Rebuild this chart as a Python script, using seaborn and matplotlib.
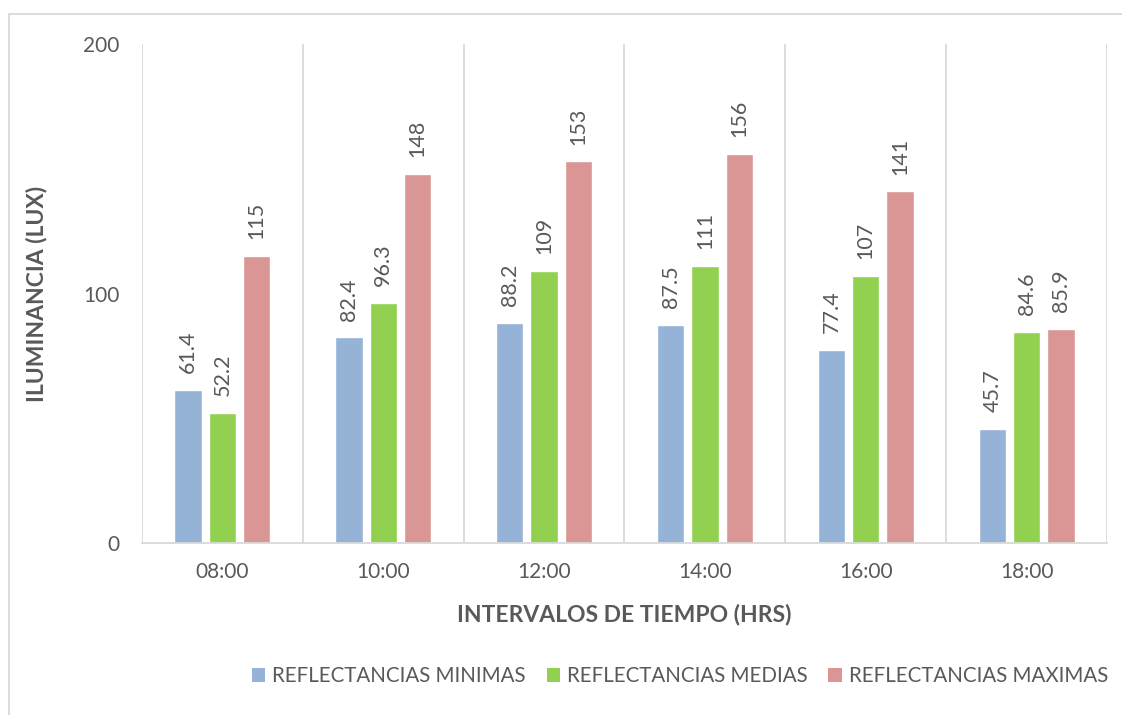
import pandas as pd
import matplotlib.pyplot as plt
import seaborn as sns
from matplotlib.lines import Line2D
from matplotlib.patches import Patch

# datos de la gráfica
horas = ['08:00', '10:00', '12:00', '14:00', '16:00', '18:00']
series = ['REFLECTANCIAS MINIMAS', 'REFLECTANCIAS MEDIAS', 'REFLECTANCIAS MAXIMAS']
minimas = [61.4, 82.4, 88.2, 87.5, 77.4, 45.7]
medias = [52.2, 96.3, 109, 111, 107, 84.6]
maximas = [115, 148, 153, 156, 141, 85.9]
colores = ['#95B3D7', '#92D050', '#D99694']
yticks = [0, 100, 200]

GRIS = '#595959'
LINEA = '#D9D9D9'

df = pd.DataFrame({
    'hora': horas * 3,
    'serie': [series[0]] * 6 + [series[1]] * 6 + [series[2]] * 6,
    'valor': minimas + medias + maximas,
})

sns.set_theme(style='white')
plt.rcParams['font.family'] = ['Lato', 'DejaVu Sans']

fig = plt.figure(figsize=(11.22, 7.15), dpi=100)
ax = fig.add_axes([142 / 1122, 1 - 543 / 715, (1107 - 142) / 1122, (543 - 44) / 715])

sns.barplot(data=df, x='hora', y='valor', hue='serie', palette=colores,
            width=0.64, gap=0.2, saturation=1, ax=ax, legend=False,
            errorbar=None)

# etiquetas de valor sobre las barras
for cont in ax.containers:
    ax.bar_label(cont, labels=[f"{b.get_height():.3g}" for b in cont],
                 rotation=90, padding=12, fontsize=15.5, color=GRIS)

ax.set_xlim(-0.5, len(horas) - 0.5)
ax.set_ylim(0, 200)
ax.set_yticks(yticks)
ax.set_xticks(range(len(horas)))
ax.set_xticks([i - 0.5 for i in range(len(horas) + 1)], minor=True)
ax.grid(which='minor', axis='x', color=LINEA, linewidth=1.3)
ax.grid(which='major', axis='y', visible=False)
ax.tick_params(axis='both', which='both', length=0, labelsize=15, labelcolor=GRIS)
ax.tick_params(axis='x', pad=14)
ax.tick_params(axis='y', pad=16)

for lado in ['top', 'right', 'left']:
    ax.spines[lado].set_visible(False)
ax.spines['bottom'].set_color(LINEA)
ax.spines['bottom'].set_linewidth(1.3)

ax.set_xlabel('INTERVALOS DE TIEMPO (HRS)', fontsize=16.5, fontweight='bold', color=GRIS, labelpad=15)
ax.set_ylabel('ILUMINANCIA (LUX)', fontsize=16.5, fontweight='bold', color=GRIS, labelpad=26)

# leyenda
handles = [Patch(facecolor=c, edgecolor='none') for c in colores]
fig.legend(handles, series, loc='center', bbox_to_anchor=(680 / 1122, 1 - 676 / 715),
           ncol=3, frameon=False, fontsize=14.8, handlelength=0.65, handleheight=0.65,
           handletextpad=0.35, columnspacing=1.0, labelcolor=GRIS)

# borde del área del gráfico
fig.add_artist(Line2D([9 / 1122, 1.0], [1 - 14 / 715] * 2, color=LINEA, linewidth=1.3))
fig.add_artist(Line2D([9 / 1122] * 2, [0.0, 1 - 14 / 715], color=LINEA, linewidth=1.3))

fig.savefig('out.png', dpi=100)
